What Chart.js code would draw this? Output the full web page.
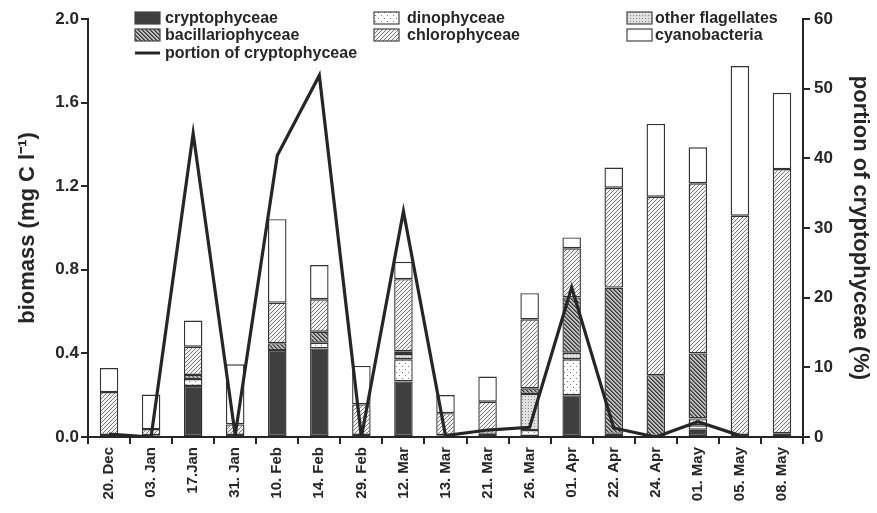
<!DOCTYPE html>
<html>
<head>
<meta charset="utf-8">
<script src="https://cdn.jsdelivr.net/npm/chart.js@4.4.1/dist/chart.umd.min.js"></script>
<style>
html,body{margin:0;padding:0;background:#fff;}
#wrap{width:877px;height:513px;position:relative;}
</style>
</head>
<body>
<div id="wrap"><canvas id="c" width="877" height="513"></canvas></div>
<script>
const categories = ["20. Dec","03. Jan","17.Jan","31. Jan","10. Feb","14. Feb","29. Feb","12. Mar","13. Mar","21. Mar","26. Mar","01. Apr","22. Apr","24. Apr","01. May","05. May","08. May"];
const cryptophyceae     = [0,     0,     0.244, 0,     0.416, 0.424, 0,     0.266, 0,     0,     0,     0.200, 0.015, 0,     0.035, 0,     0];
const dinophyceae       = [0,     0,     0.033, 0,     0,     0.027, 0,     0.106, 0,     0.010, 0.033, 0.172, 0,     0,     0.021, 0,     0];
const otherFlagellates  = [0,     0,     0,     0,     0,     0,     0,     0.025, 0,     0,     0.173, 0.031, 0,     0,     0.033, 0,     0];
const bacillariophyceae = [0.010, 0.008, 0.020, 0.010, 0.033, 0.053, 0.010, 0.013, 0.008, 0.005, 0.027, 0.265, 0.700, 0.296, 0.311, 0.010, 0.018];
const chlorophyceae     = [0.205, 0.030, 0.135, 0.050, 0.194, 0.155, 0.146, 0.345, 0.106, 0.154, 0.330, 0.235, 0.478, 0.854, 0.814, 1.049, 1.264];
const cyanobacteria     = [0.115, 0.165, 0.125, 0.288, 0.399, 0.164, 0.184, 0.083, 0.087, 0.120, 0.125, 0.052, 0.096, 0.348, 0.172, 0.716, 0.365];
const portionCrypto     = [0.4,   0,     43.6,  0.3,   40.4,  51.9,  0,     32.4,  0.2,   1.0,   1.4,   21.5,  1.3,   0,     2.2,   0.2,   null];
const leftTicks = [0, 0.4, 0.8, 1.2, 1.6, 2.0];
const rightTicks = [0, 10, 20, 30, 40, 50, 60];

function makePattern(kind){
  const p = document.createElement('canvas');
  const ctx = p.getContext('2d');
  if(kind==='dino'){
    p.width=6;p.height=6;
    ctx.fillStyle='#fff';ctx.fillRect(0,0,6,6);
    ctx.fillStyle='#777';
    ctx.fillRect(0,0,1,1);ctx.fillRect(3,3,1,1);
  } else if(kind==='other'){
    p.width=3;p.height=3;
    ctx.fillStyle='#e0e0e0';ctx.fillRect(0,0,3,3);
    ctx.fillStyle='#888';
    ctx.fillRect(0,0,1,1);
  } else if(kind==='bac'){
    p.width=4;p.height=4;
    ctx.fillStyle='#bdbdbd';ctx.fillRect(0,0,4,4);
    ctx.fillStyle='#3a3a3a';
    for(let i=0;i<4;i++){ctx.fillRect(i,i,1,1);}
    ctx.fillStyle='#6a6a6a';
    for(let i=0;i<4;i++){ctx.fillRect((i+1)%4,i,1,1);}
  } else if(kind==='chl'){
    p.width=4;p.height=4;
    ctx.fillStyle='#f2f2f2';ctx.fillRect(0,0,4,4);
    ctx.fillStyle='#7a7a7a';
    for(let i=0;i<4;i++){ctx.fillRect(3-i,i,1,1);}
  }
  return document.createElement('canvas').getContext('2d').createPattern(p,'repeat');
}
const patDino = makePattern('dino');
const patOther = makePattern('other');
const patBac = makePattern('bac');
const patChl = makePattern('chl');

const FONT = "'Liberation Sans', Arial, sans-serif";
const INK = '#262626';

const legendItems = [
  {label:'cryptophyceae', fill:'#3f3f3f', x:135, y:18, tx:165},
  {label:'dinophyceae', fill:patDino, x:374, y:18, tx:407},
  {label:'other flagellates', fill:patOther, x:627, y:18, tx:655},
  {label:'bacillariophyceae', fill:patBac, x:135, y:35, tx:165},
  {label:'chlorophyceae', fill:patChl, x:374, y:35, tx:407},
  {label:'cyanobacteria', fill:'#ffffff', x:627, y:35, tx:655},
  {label:'portion of cryptophyceae', line:true, x:135, y:53, tx:165}
];

const legendPlugin = {
  id:'customLegend',
  afterDraw(chart){
    const ctx = chart.ctx;
    ctx.save();
    ctx.font = "bold 16px " + FONT;
    ctx.textBaseline = 'middle';
    ctx.textAlign = 'left';
    legendItems.forEach(it=>{
      if(it.line){
        ctx.strokeStyle = INK; ctx.lineWidth = 3;
        ctx.beginPath(); ctx.moveTo(it.x, it.y); ctx.lineTo(it.x+25, it.y); ctx.stroke();
      } else {
        ctx.fillStyle = it.fill;
        ctx.fillRect(it.x, it.y-6, 25, 12);
        ctx.strokeStyle = '#444'; ctx.lineWidth = 1.2;
        ctx.strokeRect(it.x, it.y-6, 25, 12);
      }
      ctx.fillStyle = INK;
      ctx.fillText(it.label, it.tx, it.y+1);
    });
    ctx.restore();
  }
};

function barDs(label, data, fill){
  return {type:'bar', label, data, backgroundColor: fill, borderColor:'#333', borderWidth:1.4,
    borderSkipped:false, yAxisID:'y', order:2, stack:'s', barPercentage:0.44, categoryPercentage:1.0};
}

new Chart(document.getElementById('c'), {
  data:{
    labels: categories,
    datasets:[
      {type:'line', label:'portion of cryptophyceae', data: portionCrypto, yAxisID:'y2', borderColor:INK,
       borderWidth:3.2, pointRadius:0, tension:0, fill:false, order:0, spanGaps:false},
      barDs('cryptophyceae', cryptophyceae, '#3f3f3f'),
      barDs('dinophyceae', dinophyceae, patDino),
      barDs('other flagellates', otherFlagellates, patOther),
      barDs('bacillariophyceae', bacillariophyceae, patBac),
      barDs('chlorophyceae', chlorophyceae, patChl),
      barDs('cyanobacteria', cyanobacteria, '#ffffff')
    ]
  },
  options:{
    responsive:false,
    animation:false,
    layout:{padding:{top:19, left:15, right:0, bottom:0}},
    plugins:{legend:{display:false}, tooltip:{enabled:false}},
    scales:{
      x:{
        stacked:true, offset:true,
        grid:{display:true, offset:true, drawOnChartArea:false, drawTicks:true, tickLength:7, color:INK, lineWidth:2},
        border:{display:true, color:INK, width:2},
        ticks:{minRotation:90, maxRotation:90, autoSkip:false, color:INK, padding:3,
               font:{family:FONT, weight:'bold', size:15}},
        afterFit(s){ s.height = 76; }
      },
      y:{
        type:'linear', position:'left', stacked:true, min:0, max:2.0,
        afterBuildTicks(s){ s.ticks = leftTicks.map(v=>({value:v})); },
        grid:{display:true, drawOnChartArea:false, drawTicks:true, tickLength:7, color:INK, lineWidth:2},
        border:{display:true, color:INK, width:2},
        ticks:{color:INK, padding:2, font:{family:FONT, weight:'bold', size:17}, callback:v=>Number(v).toFixed(1)},
        title:{display:true, text:'biomass (mg C l\u207B\u00B9)', color:INK, padding:{top:0,bottom:4},
               font:{family:FONT, weight:'bold', size:22}},
        afterFit(s){ s.width = 73; }
      },
      y2:{
        type:'linear', position:'right', stacked:false, min:0, max:60,
        afterBuildTicks(s){ s.ticks = rightTicks.map(v=>({value:v})); },
        grid:{display:true, drawOnChartArea:false, drawTicks:true, tickLength:7, color:INK, lineWidth:2},
        border:{display:true, color:INK, width:2},
        ticks:{color:INK, padding:4, font:{family:FONT, weight:'bold', size:17}},
        title:{display:true, text:'portion of cryptophyceae (%)', color:INK, padding:{top:4,bottom:0},
               font:{family:FONT, weight:'bold', size:22}},
        afterFit(s){ s.width = 74; }
      }
    }
  },
  plugins:[legendPlugin]
});
</script>
</body>
</html>
